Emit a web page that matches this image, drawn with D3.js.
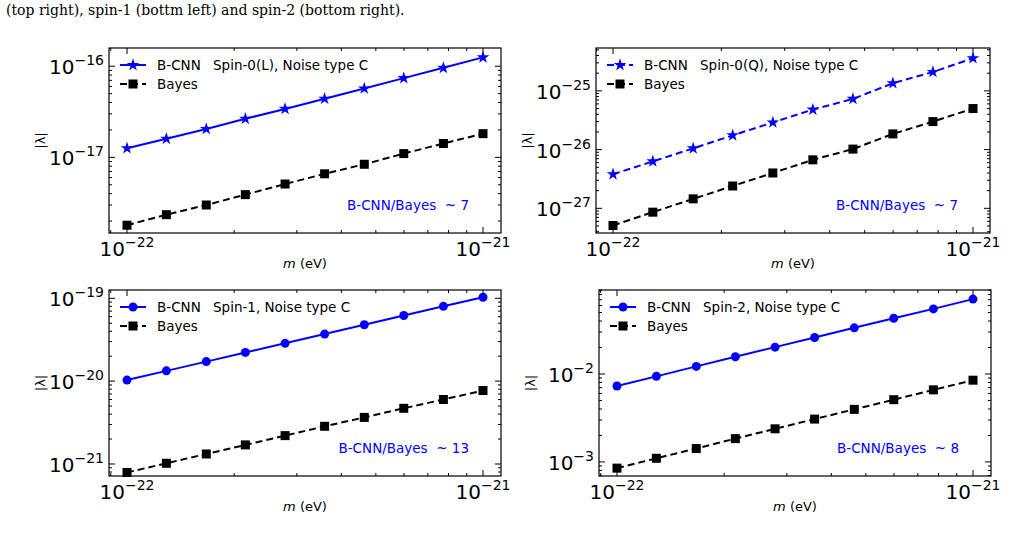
<!DOCTYPE html>
<html><head><meta charset="utf-8">
<script src="https://cdn.jsdelivr.net/npm/d3@7"></script>
<style>body{margin:0;background:#fff}svg{display:block}</style>
</head><body>
<svg id="chart" width="1031" height="533"></svg>
<script>
// mass grid (eV), shared by all panels
const masses = [1e-22, 1.29e-22, 1.67e-22, 2.15e-22, 2.78e-22, 3.59e-22, 4.64e-22, 5.99e-22, 7.74e-22, 1e-21]

const cnnSpin0L = [1.26e-17, 1.6e-17, 2.05e-17, 2.65e-17, 3.4e-17, 4.4e-17, 5.7e-17, 7.4e-17, 9.6e-17, 1.25e-16]
const bayesSpin0L = [1.8e-18, 2.35e-18, 3.0e-18, 3.9e-18, 5.1e-18, 6.6e-18, 8.4e-18, 1.1e-17, 1.42e-17, 1.82e-17]
const cnnSpin0Q = [3.8e-27, 6.3e-27, 1.05e-26, 1.75e-26, 2.9e-26, 4.8e-26, 7.3e-26, 1.35e-25, 2.1e-25, 3.6e-25]
const bayesSpin0Q = [5.1e-28, 8.6e-28, 1.45e-27, 2.4e-27, 4.0e-27, 6.7e-27, 1.02e-26, 1.85e-26, 3.0e-26, 5.0e-26]
const cnnSpin1 = [1.03e-20, 1.33e-20, 1.72e-20, 2.22e-20, 2.86e-20, 3.7e-20, 4.8e-20, 6.2e-20, 8.0e-20, 1.03e-19]
const bayesSpin1 = [7.9e-22, 1.02e-21, 1.32e-21, 1.7e-21, 2.2e-21, 2.85e-21, 3.65e-21, 4.7e-21, 6.0e-21, 7.7e-21]
const cnnSpin2 = [7.3e-3, 9.4e-3, 1.22e-2, 1.57e-2, 2.02e-2, 2.6e-2, 3.35e-2, 4.3e-2, 5.5e-2, 7.1e-2]
const bayesSpin2 = [8.5e-4, 1.1e-3, 1.42e-3, 1.84e-3, 2.38e-3, 3.07e-3, 3.96e-3, 5.1e-3, 6.6e-3, 8.5e-3]

const panelTitles = ['Spin-0(L), Noise type C', 'Spin-0(Q), Noise type C', 'Spin-1, Noise type C', 'Spin-2, Noise type C']
const ratioLabels = ['B-CNN/Bayes  ~ 7', 'B-CNN/Bayes  ~ 7', 'B-CNN/Bayes  ~ 13', 'B-CNN/Bayes  ~ 8']

const panels = [
    { box: [109, 48, 501, 233], xr: [127, 483], yd: [10 ** -17.83, 10 ** -15.80], cnn: cnnSpin0L, bayes: bayesSpin0L, marker: 'star', dash: null, ticks: [-17, -16] },
    { box: [596, 48, 990, 233], xr: [613, 973], yd: [10 ** -27.42, 10 ** -24.27], cnn: cnnSpin0Q, bayes: bayesSpin0Q, marker: 'star', dash: '7,4', ticks: [-27, -26, -25] },
    { box: [109, 290, 501, 476], xr: [127, 483], yd: [10 ** -21.145, 10 ** -18.90], cnn: cnnSpin1, bayes: bayesSpin1, marker: 'circle', dash: null, ticks: [-21, -20, -19] },
    { box: [599, 290, 991, 476], xr: [617, 973], yd: [10 ** -3.16, 10 ** -1.045], cnn: cnnSpin2, bayes: bayesSpin2, marker: 'circle', dash: null, ticks: [-3, -2] }
]

const svg = d3.select('#chart')
const sup = n => String(n).replace('-', '\u2212')

svg.append('text').attr('x', 6).attr('y', 15)
    .style('font-family', 'DejaVu Serif, Liberation Serif, serif').style('font-size', '14px')
    .text('(top right), spin-1 (bottm left) and spin-2 (bottom right).')

function drawMarker(g, type, x, y, color) {
    if (type === 'star') {
        g.append('path').attr('d', d3.symbol(d3.symbolStar, 50)()).attr('transform', `translate(${x},${y})`).attr('fill', color)
    } else if (type === 'circle') {
        g.append('circle').attr('cx', x).attr('cy', y).attr('r', 4.5).attr('fill', color)
    } else {
        g.append('rect').attr('x', x - 4.5).attr('y', y - 4.5).attr('width', 9).attr('height', 9).attr('fill', color)
    }
}

panels.forEach((p, i) => {
    const [x0, y0, x1, y1] = p.box
    const x = d3.scaleLog().domain([1e-22, 1e-21]).range(p.xr)
    const y = d3.scaleLog().domain(p.yd).range([y1, y0])
    const g = svg.append('g')

    // minor x ticks
    const xMinor = d3.range(2, 10).map(k => k * 1e-22).concat([9e-23])
    xMinor.forEach(v => {
        if (x(v) <= x0) return
        g.append('line').attr('x1', x(v)).attr('x2', x(v)).attr('y1', y1).attr('y2', y1 - 3).attr('stroke', '#000')
        g.append('line').attr('x1', x(v)).attr('x2', x(v)).attr('y1', y0).attr('y2', y0 + 3).attr('stroke', '#000')
    })
    ;[1e-22, 1e-21].forEach(v => {
        g.append('line').attr('x1', x(v)).attr('x2', x(v)).attr('y1', y1).attr('y2', y1 - 6).attr('stroke', '#000')
        g.append('line').attr('x1', x(v)).attr('x2', x(v)).attr('y1', y0).attr('y2', y0 + 6).attr('stroke', '#000')
        const t = g.append('text').attr('x', x(v)).attr('y', y1 + 23).attr('text-anchor', 'middle')
            .style('font-family', 'DejaVu Sans, sans-serif').style('font-size', '20px')
        t.append('tspan').text('10')
        t.append('tspan').attr('dy', -9).style('font-size', '14px').text(sup(Math.round(Math.log10(v))))
    })

    // y ticks
    const lo = Math.floor(Math.log10(p.yd[0])), hi = Math.ceil(Math.log10(p.yd[1]))
    for (let e = lo; e <= hi; e++) {
        for (let k = 2; k < 10; k++) {
            const v = k * 10 ** e
            if (v < p.yd[0] || v > p.yd[1]) continue
            g.append('line').attr('x1', x0).attr('x2', x0 + 3).attr('y1', y(v)).attr('y2', y(v)).attr('stroke', '#000')
            g.append('line').attr('x1', x1).attr('x2', x1 - 3).attr('y1', y(v)).attr('y2', y(v)).attr('stroke', '#000')
        }
    }
    p.ticks.forEach(e => {
        const v = 10 ** e
        g.append('line').attr('x1', x0).attr('x2', x0 + 6).attr('y1', y(v)).attr('y2', y(v)).attr('stroke', '#000')
        g.append('line').attr('x1', x1).attr('x2', x1 - 6).attr('y1', y(v)).attr('y2', y(v)).attr('stroke', '#000')
        const t = g.append('text').attr('x', x0 - 5).attr('y', y(v) + 8).attr('text-anchor', 'end')
            .style('font-family', 'DejaVu Sans, sans-serif').style('font-size', '20px')
        t.append('tspan').text('10')
        t.append('tspan').attr('dy', -9).style('font-size', '14px').text(sup(e))
    })

    g.append('rect').attr('x', x0).attr('y', y0).attr('width', x1 - x0).attr('height', y1 - y0)
        .attr('fill', 'none').attr('stroke', '#000').attr('stroke-width', 1.2)

    // axis labels
    const xl = g.append('text').attr('x', (x0 + x1) / 2).attr('y', y1 + 35).attr('text-anchor', 'middle')
        .style('font-family', 'DejaVu Sans, sans-serif').style('font-size', '13px')
    xl.append('tspan').style('font-style', 'italic').text('m')
    xl.append('tspan').text(' (eV)')
    g.append('text').attr('transform', `translate(${x0 - 64},${(y0 + y1) / 2}) rotate(-90)`).attr('text-anchor', 'middle')
        .style('font-family', 'DejaVu Sans, sans-serif').style('font-size', '13px').text('|\u03bb|')

    // series
    const line = d3.line().x((d, j) => x(masses[j])).y(d => y(d))
    g.append('path').datum(p.bayes).attr('d', line).attr('fill', 'none').attr('stroke', '#000')
        .attr('stroke-width', 2).attr('stroke-dasharray', '7,4')
    p.bayes.forEach((v, j) => drawMarker(g, 'square', x(masses[j]), y(v), '#000'))
    g.append('path').datum(p.cnn).attr('d', line).attr('fill', 'none').attr('stroke', '#0000ff')
        .attr('stroke-width', 2).attr('stroke-dasharray', p.dash)
    p.cnn.forEach((v, j) => drawMarker(g, p.marker, x(masses[j]), y(v), '#0000ff'))

    // legend
    const lx = x0 + 11, ly = y0 + 17
    g.append('line').attr('x1', lx).attr('x2', lx + 26).attr('y1', ly).attr('y2', ly).attr('stroke', '#0000ff')
        .attr('stroke-width', 2).attr('stroke-dasharray', p.dash)
    drawMarker(g, p.marker, lx + 13, ly, '#0000ff')
    g.append('line').attr('x1', lx).attr('x2', lx + 26).attr('y1', ly + 19).attr('y2', ly + 19).attr('stroke', '#000')
        .attr('stroke-width', 2).attr('stroke-dasharray', '7,4')
    drawMarker(g, 'square', lx + 13, ly + 19, '#000')
    const ft = s => s.style('font-family', 'DejaVu Sans, sans-serif').style('font-size', '13.5px')
    ft(g.append('text').attr('x', lx + 37).attr('y', ly + 5).text('B-CNN'))
    ft(g.append('text').attr('x', lx + 93).attr('y', ly + 5).text(panelTitles[i]))
    ft(g.append('text').attr('x', lx + 37).attr('y', ly + 24).text('Bayes'))
    ft(g.append('text').attr('x', x1 - 32).attr('y', y1 - 23).attr('text-anchor', 'end').attr('fill', '#0000ff')
        .style('white-space', 'pre').text(ratioLabels[i]))
})
</script>
</body></html>
